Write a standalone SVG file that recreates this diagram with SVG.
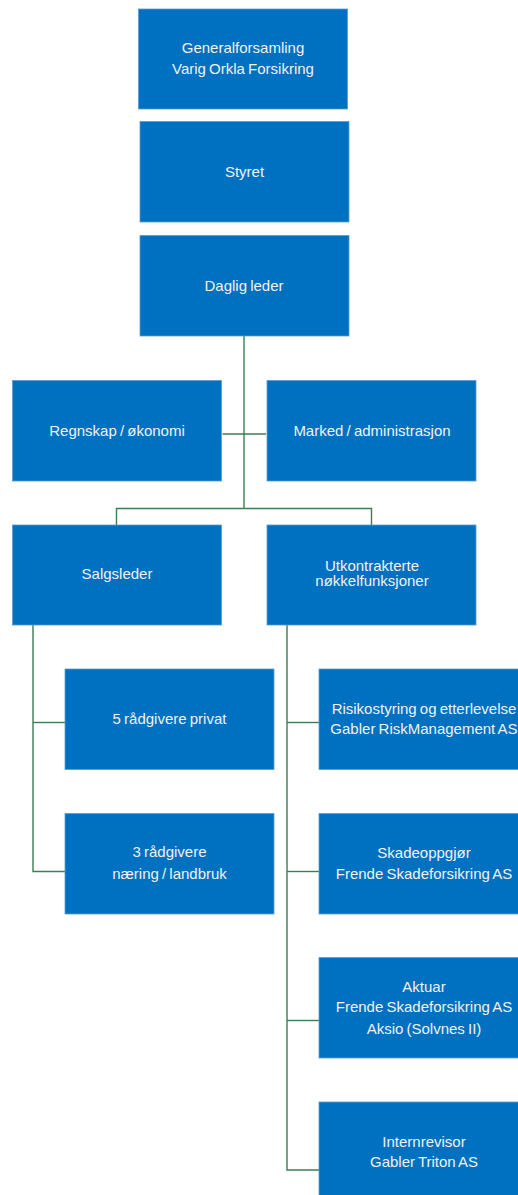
<svg xmlns="http://www.w3.org/2000/svg" width="518" height="1195" viewBox="0 0 518 1195">
<style>
.box{fill:#0070C0;stroke:#5B9BD5;stroke-width:0.8}
.t{font-family:"Liberation Sans",Arial,sans-serif;font-size:15px;fill:#F2F2F2;text-anchor:middle;word-spacing:-1px}
.c{fill:none;stroke:#3E7D54;stroke-width:1.4}
</style>
<rect width="518" height="1195" fill="#FFFFFF"/>
<g id="connectors">
<path class="c" d="M244,336 V508"/>
<path class="c" d="M222.5,434 H266"/>
<path class="c" d="M116.5,525 V508.5 H371.5 V525"/>
<path class="c" d="M33,625 V871.5 H65"/>
<path class="c" d="M33,722.5 H65"/>
<path class="c" d="M287,625 V1170 H319"/>
<path class="c" d="M287,722.5 H319"/>
<path class="c" d="M287,871.5 H319"/>
<path class="c" d="M287,1020.5 H319"/>
</g>
<g id="generalforsamling">
<rect class="box" x="138.5" y="9" width="209" height="100"/>
<text class="t" x="243" y="53">Generalforsamling</text>
<text class="t" x="243" y="74">Varig Orkla Forsikring</text>
</g>
<g id="styret">
<rect class="box" x="140" y="121.5" width="209" height="100.5"/>
<text class="t" x="244.5" y="177">Styret</text>
</g>
<g id="daglig-leder">
<rect class="box" x="140" y="235.5" width="209" height="100.5"/>
<text class="t" x="244" y="291">Daglig leder</text>
</g>
<g id="regnskap">
<rect class="box" x="12.5" y="380.5" width="209" height="100.5"/>
<text class="t" x="117" y="435.5">Regnskap / økonomi</text>
</g>
<g id="marked">
<rect class="box" x="267" y="380.5" width="209" height="100.5"/>
<text class="t" x="372" y="435.5">Marked / administrasjon</text>
</g>
<g id="salgsleder">
<rect class="box" x="12.5" y="525" width="209" height="100"/>
<text class="t" x="117" y="578.5">Salgsleder</text>
</g>
<g id="utkontrakterte">
<rect class="box" x="267" y="525" width="209" height="100"/>
<text class="t" x="372" y="570.5">Utkontrakterte</text>
<text class="t" x="372" y="586">nøkkelfunksjoner</text>
</g>
<g id="radgivere-privat">
<rect class="box" x="65" y="669" width="209" height="100.5"/>
<text class="t" x="169.5" y="723.5">5 rådgivere privat</text>
</g>
<g id="radgivere-naering">
<rect class="box" x="65" y="813.5" width="209" height="100.5"/>
<text class="t" x="169.5" y="857">3 rådgivere</text>
<text class="t" x="169.5" y="878.5">næring / landbruk</text>
</g>
<g id="risikostyring">
<rect class="box" x="319" y="669" width="209" height="100.5"/>
<text class="t" x="424" y="713.5">Risikostyring og etterlevelse</text>
<text class="t" x="424" y="733.5">Gabler RiskManagement AS</text>
</g>
<g id="skadeoppgjor">
<rect class="box" x="319" y="813.5" width="209" height="100.5"/>
<text class="t" x="424" y="857.5">Skadeoppgjør</text>
<text class="t" x="424" y="878.5">Frende Skadeforsikring AS</text>
</g>
<g id="aktuar">
<rect class="box" x="319" y="957.5" width="209" height="100.5"/>
<text class="t" x="424" y="992">Aktuar</text>
<text class="t" x="424" y="1012">Frende Skadeforsikring AS</text>
<text class="t" x="424" y="1033.5">Aksio (Solvnes II)</text>
</g>
<g id="internrevisor">
<rect class="box" x="319" y="1102" width="209" height="101"/>
<text class="t" x="424" y="1147">Internrevisor</text>
<text class="t" x="424" y="1167">Gabler Triton AS</text>
</g>
</svg>
